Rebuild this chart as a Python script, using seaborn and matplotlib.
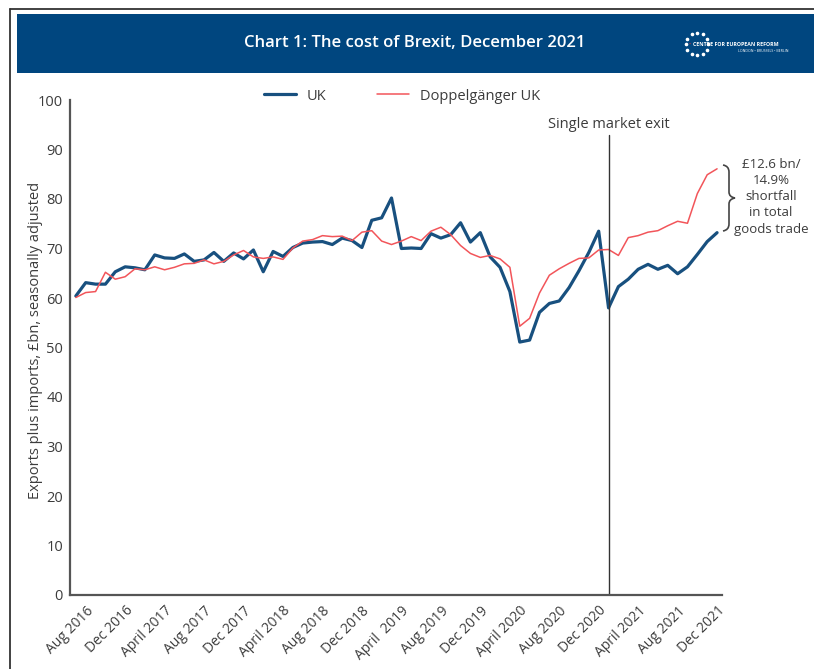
import numpy as np
import pandas as pd
import matplotlib
matplotlib.use("Agg")
import matplotlib.pyplot as plt
from matplotlib.patches import Rectangle, PathPatch
from matplotlib.path import Path
from matplotlib.lines import Line2D
import seaborn as sns

# ---------------- data ----------------
months = pd.date_range("2016-07-01", "2021-12-01", freq="MS")
uk = [60.4, 63.1, 62.8, 62.8, 65.3, 66.3, 66.1, 65.7, 68.7, 68.1, 68.0, 68.9,
      67.4, 67.7, 69.2, 67.4, 69.1, 67.9, 69.7, 65.3, 69.4, 68.4, 70.2, 71.1,
      71.3, 71.4, 70.8, 72.1, 71.6, 70.2, 75.7, 76.2, 80.2, 70.0, 70.1, 70.0,
      73.0, 72.1, 72.8, 75.2, 71.3, 73.2, 68.3, 66.2, 61.3, 51.1, 51.5, 57.1,
      58.9, 59.4, 62.1, 65.5, 69.2, 73.5, 58.0, 62.3, 63.8, 65.8, 66.8, 65.8,
      66.6, 64.9, 66.3, 68.8, 71.4, 73.2]
doppel = [60.1, 61.1, 61.3, 65.2, 63.8, 64.3, 65.9, 65.7, 66.3, 65.7, 66.2, 66.9,
          67.0, 67.7, 66.9, 67.4, 68.7, 69.6, 68.3, 68.0, 68.3, 67.8, 70.1, 71.5,
          71.8, 72.6, 72.4, 72.5, 71.6, 73.3, 73.6, 71.5, 70.8, 71.5, 72.4, 71.6,
          73.5, 74.3, 72.8, 70.6, 69.0, 68.2, 68.6, 67.9, 66.2, 54.3, 55.9, 61.0,
          64.6, 65.9, 67.0, 68.0, 68.1, 69.7, 69.8, 68.6, 72.2, 72.6, 73.3, 73.6,
          74.6, 75.5, 75.1, 81.1, 84.9, 86.1]
tick_labels = ["Aug 2016", "Dec 2016", "April 2017", "Aug 2017", "Dec 2017",
               "April 2018", "Aug 2018", "Dec 2018", "April  2019", "Aug 2019",
               "Dec 2019", "April 2020", "Aug 2020", "Dec 2020", "April 2021",
               "Aug 2021", "Dec 2021"]
exit_month = "2021-01-01"
title = "Chart 1: The cost of Brexit, December 2021"
ylabel = "Exports plus imports, £bn, seasonally adjusted"
annotation = "£12.6 bn/\n14.9%\nshortfall\nin total\ngoods trade"

idx = np.arange(len(months))
df = pd.DataFrame({"idx": np.concatenate([idx, idx]),
                   "value": uk + doppel,
                   "series": ["UK"] * len(uk) + ["Doppelgänger UK"] * len(doppel)})

# ---------------- style ----------------
sns.set_style("white")
plt.rcParams["font.family"] = ["Open Sans", "DejaVu Sans"]
TXT = "#3c3c3c"
AX = "#555555"
BLUE = "#18507f"
RED = "#f2555a"
HEAD = "#00467f"

W, H = 814, 669
fig = plt.figure(figsize=(W / 100, H / 100), dpi=100)

def fx(px):
    return px / W

def fy(py):
    return 1 - py / H

# frame and header
fig.add_artist(Line2D([fx(10), fx(10)], [fy(9), 0], color="#333333", lw=1.3,
                      transform=fig.transFigure))
fig.add_artist(Line2D([fx(10), 1], [fy(9), fy(9)], color="#333333", lw=1.3,
                      transform=fig.transFigure))
fig.add_artist(Rectangle((fx(17), fy(73)), 1 - fx(17), fy(14) - fy(73),
                         facecolor=HEAD, edgecolor="none", transform=fig.transFigure))
fig.text(fx(415), fy(43), title, color="white", fontsize=12, ha="center",
         va="center", fontweight="semibold")

# logo
cx, cy, r = 697, 44, 11
ang = np.linspace(0, 2 * np.pi, 12, endpoint=False)
fig.add_artist(Line2D(fx(cx + r * np.cos(ang)), fy(cy + r * np.sin(ang)),
                      linestyle="none", marker="o", markersize=1.6,
                      color="white", transform=fig.transFigure))
fig.text(fx(690), fy(44), "•", color="#d0303a", fontsize=4, ha="center", va="center")
fig.text(fx(693), fy(44), "CENTRE FOR EUROPEAN REFORM", color="white", fontsize=3.8,
         fontweight="bold", ha="left", va="center")
fig.text(fx(789), fy(51), "LONDON • BRUSSELS • BERLIN", color="white", fontsize=2.5,
         ha="right", va="center")

# axes
ax = fig.add_axes([fx(70), fy(595), fx(722) - fx(70), fy(100) - fy(595)])
sns.lineplot(data=df, x="idx", y="value", hue="series",
             palette={"UK": BLUE, "Doppelgänger UK": RED},
             hue_order=["UK", "Doppelgänger UK"], ax=ax, legend=False)
lines = ax.get_lines()
lines[0].set_linewidth(2.3)
lines[1].set_linewidth(1.1)

xpos_exit = list(months).index(pd.Timestamp(exit_month))
ax.axvline(xpos_exit, ymin=0, ymax=(595 - 135) / 495, color="#333333", lw=1)
ax.text(xpos_exit, 93.5, "Single market exit", ha="center", va="bottom",
        fontsize=10.5, color=TXT)

ax.set_xlim(-0.59, 65.5)
ax.set_ylim(0, 100)
ax.set_yticks(np.arange(0, 101, 10))
tick_idx = np.arange(1, len(months), 4)
ax.set_xticks(tick_idx)
ax.set_xticklabels(tick_labels, rotation=45, ha="right", rotation_mode="anchor",
                   fontsize=10, color=TXT)
ax.tick_params(axis="y", direction="in", length=12, width=1.4, color=AX,
               labelsize=10.5, labelcolor=TXT, pad=5)
ax.tick_params(axis="x", direction="in", length=8.5, width=1.1, color=AX, pad=6)
for s in ["top", "right"]:
    ax.spines[s].set_visible(False)
for s in ["left", "bottom"]:
    ax.spines[s].set_color(AX)
    ax.spines[s].set_linewidth(1.6)
ax.set_xlabel("")
ax.set_ylabel(ylabel, fontsize=10.5, color=TXT)
ax.yaxis.set_label_coords((43 - 70) / 652, (595 - 340) / 495)
ax.patch.set_alpha(0)

handles = [Line2D([], [], color=BLUE, lw=2.3), Line2D([], [], color=RED, lw=1.1)]
ax.legend(handles, ["UK", "Doppelgänger UK"], ncol=2, frameon=False,
          loc="center", bbox_to_anchor=((402 - 70) / 652, (595 - 96) / 495),
          fontsize=10.5, handlelength=2.2, handletextpad=0.7, columnspacing=3.5,
          labelcolor=TXT)

# brace annotation (curly bracket drawn as a path, pixel coords -> figure)
bx = 728
pts = [(bx - 5, 165), (bx + 1, 166), (bx + 1, 172),
       (bx + 1, 192),
       (bx + 1, 197), (bx + 7, 198),
       (bx + 1, 199), (bx + 1, 204),
       (bx + 1, 224),
       (bx + 1, 230), (bx - 5, 231)]
codes = [Path.MOVETO, Path.CURVE3, Path.CURVE3, Path.LINETO, Path.CURVE3, Path.CURVE3,
         Path.CURVE3, Path.CURVE3, Path.LINETO, Path.CURVE3, Path.CURVE3]
brace = Path([(fx(x), fy(y)) for x, y in pts], codes)
fig.add_artist(PathPatch(brace, facecolor="none", edgecolor="#444444", lw=1.2,
                         transform=fig.transFigure))
fig.text(fx(771), fy(197), annotation, fontsize=9.5, color=TXT, ha="center", va="center",
         linespacing=1.3)

fig.savefig("out.png", dpi=100)
